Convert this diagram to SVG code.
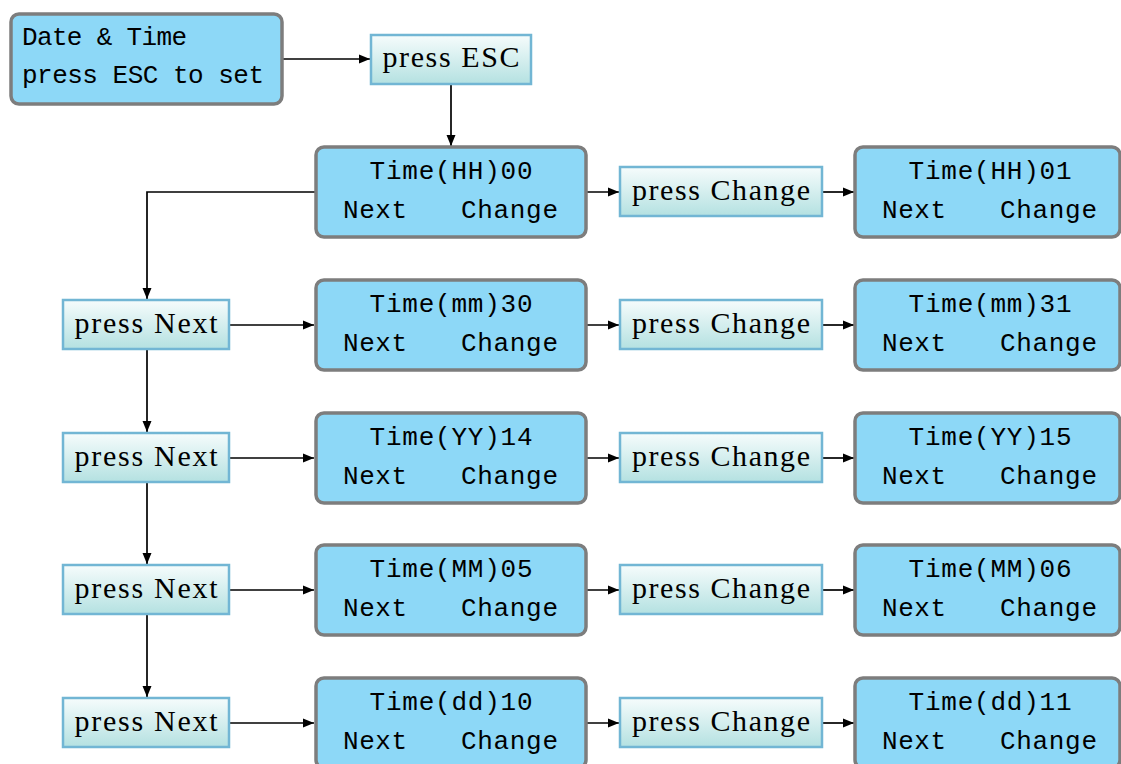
<svg xmlns="http://www.w3.org/2000/svg" width="1121" height="764" viewBox="0 0 1121 764">
<defs>
<linearGradient id="pg" x1="0" y1="0" x2="0" y2="1">
<stop offset="0" stop-color="#f6fcfc"/>
<stop offset="1" stop-color="#b4e1e1"/>
</linearGradient>
<marker id="ah" markerWidth="12" markerHeight="10" refX="11" refY="5" orient="auto" markerUnits="userSpaceOnUse">
<path d="M0,0.5 L11,5 L0,9.5 Z" fill="#000"/>
</marker>
<style>
.lcd{fill:#8dd8f7;stroke:#7d7d7d;stroke-width:3.5}
.pr{fill:url(#pg);stroke:#72b6d4;stroke-width:2.5}
.mono{font-family:"Liberation Mono","DejaVu Sans Mono",monospace;font-size:26px;fill:#000}
.ser{font-family:"Liberation Serif","DejaVu Serif",serif;font-size:30px;fill:#000}
.c{stroke:#000;stroke-width:1.7;fill:none;marker-end:url(#ah)}
</style>
</defs>
<g id="connectors">
<path class="c" d="M282,59 L370,59"/>
<path class="c" d="M451,84 L451,146"/>
<path class="c" d="M316,192 L147,192 L147,299"/>
<path class="c" d="M147,349 L147,432"/>
<path class="c" d="M147,482 L147,564"/>
<path class="c" d="M147,614 L147,697"/>
<path class="c" d="M229,325 L314,325"/>
<path class="c" d="M229,458 L314,458"/>
<path class="c" d="M229,590 L314,590"/>
<path class="c" d="M229,723 L314,723"/>
<path class="c" d="M586,192 L619,192"/>
<path class="c" d="M586,325 L619,325"/>
<path class="c" d="M586,458 L619,458"/>
<path class="c" d="M586,590 L619,590"/>
<path class="c" d="M586,723 L619,723"/>
<path class="c" d="M822,192 L854,192"/>
<path class="c" d="M822,325 L854,325"/>
<path class="c" d="M822,458 L854,458"/>
<path class="c" d="M822,590 L854,590"/>
<path class="c" d="M822,723 L854,723"/>
</g>
<g id="start">
<rect class="lcd" x="11" y="14" width="271" height="90" rx="8"/>
<text class="mono" x="22" y="45" textLength="165">Date &amp; Time</text>
<text class="mono" x="22" y="83" textLength="242">press ESC to set</text>
</g>
<g id="pressESC">
<rect class="pr" x="371" y="35" width="160" height="49"/>
<text class="ser" x="451" y="67" text-anchor="middle" textLength="137">press ESC</text>
</g>
<g id="hh00">
<rect class="lcd" x="316" y="147" width="270" height="90" rx="8"/>
<text class="mono" x="451" y="179" text-anchor="middle" textLength="163">Time(HH)00</text>
<text class="mono" x="343" y="218" textLength="64">Next</text>
<text class="mono" x="461" y="218" textLength="97">Change</text>
</g>
<g id="pc1">
<rect class="pr" x="620" y="167" width="202" height="49"/>
<text class="ser" x="721" y="200" text-anchor="middle" textLength="178">press Change</text>
</g>
<g id="hh01">
<rect class="lcd" x="855" y="147" width="265" height="90" rx="8"/>
<text class="mono" x="990" y="179" text-anchor="middle" textLength="163">Time(HH)01</text>
<text class="mono" x="882" y="218" textLength="64">Next</text>
<text class="mono" x="1000" y="218" textLength="97">Change</text>
</g>
<g id="pn1">
<rect class="pr" x="63" y="300" width="166" height="49"/>
<text class="ser" x="146" y="333" text-anchor="middle" textLength="143">press Next</text>
</g>
<g id="mm30">
<rect class="lcd" x="316" y="280" width="270" height="90" rx="8"/>
<text class="mono" x="451" y="312" text-anchor="middle" textLength="163">Time(mm)30</text>
<text class="mono" x="343" y="351" textLength="64">Next</text>
<text class="mono" x="461" y="351" textLength="97">Change</text>
</g>
<g id="pc2">
<rect class="pr" x="620" y="300" width="202" height="49"/>
<text class="ser" x="721" y="333" text-anchor="middle" textLength="178">press Change</text>
</g>
<g id="mm31">
<rect class="lcd" x="855" y="280" width="265" height="90" rx="8"/>
<text class="mono" x="990" y="312" text-anchor="middle" textLength="163">Time(mm)31</text>
<text class="mono" x="882" y="351" textLength="64">Next</text>
<text class="mono" x="1000" y="351" textLength="97">Change</text>
</g>
<g id="pn2">
<rect class="pr" x="63" y="433" width="166" height="49"/>
<text class="ser" x="146" y="466" text-anchor="middle" textLength="143">press Next</text>
</g>
<g id="yy14">
<rect class="lcd" x="316" y="413" width="270" height="90" rx="8"/>
<text class="mono" x="451" y="445" text-anchor="middle" textLength="163">Time(YY)14</text>
<text class="mono" x="343" y="484" textLength="64">Next</text>
<text class="mono" x="461" y="484" textLength="97">Change</text>
</g>
<g id="pc3">
<rect class="pr" x="620" y="433" width="202" height="49"/>
<text class="ser" x="721" y="466" text-anchor="middle" textLength="178">press Change</text>
</g>
<g id="yy15">
<rect class="lcd" x="855" y="413" width="265" height="90" rx="8"/>
<text class="mono" x="990" y="445" text-anchor="middle" textLength="163">Time(YY)15</text>
<text class="mono" x="882" y="484" textLength="64">Next</text>
<text class="mono" x="1000" y="484" textLength="97">Change</text>
</g>
<g id="pn3">
<rect class="pr" x="63" y="565" width="166" height="49"/>
<text class="ser" x="146" y="598" text-anchor="middle" textLength="143">press Next</text>
</g>
<g id="MM05">
<rect class="lcd" x="316" y="545" width="270" height="90" rx="8"/>
<text class="mono" x="451" y="577" text-anchor="middle" textLength="163">Time(MM)05</text>
<text class="mono" x="343" y="616" textLength="64">Next</text>
<text class="mono" x="461" y="616" textLength="97">Change</text>
</g>
<g id="pc4">
<rect class="pr" x="620" y="565" width="202" height="49"/>
<text class="ser" x="721" y="598" text-anchor="middle" textLength="178">press Change</text>
</g>
<g id="MM06">
<rect class="lcd" x="855" y="545" width="265" height="90" rx="8"/>
<text class="mono" x="990" y="577" text-anchor="middle" textLength="163">Time(MM)06</text>
<text class="mono" x="882" y="616" textLength="64">Next</text>
<text class="mono" x="1000" y="616" textLength="97">Change</text>
</g>
<g id="pn4">
<rect class="pr" x="63" y="698" width="166" height="49"/>
<text class="ser" x="146" y="731" text-anchor="middle" textLength="143">press Next</text>
</g>
<g id="dd10">
<rect class="lcd" x="316" y="678" width="270" height="90" rx="8"/>
<text class="mono" x="451" y="710" text-anchor="middle" textLength="163">Time(dd)10</text>
<text class="mono" x="343" y="749" textLength="64">Next</text>
<text class="mono" x="461" y="749" textLength="97">Change</text>
</g>
<g id="pc5">
<rect class="pr" x="620" y="698" width="202" height="49"/>
<text class="ser" x="721" y="731" text-anchor="middle" textLength="178">press Change</text>
</g>
<g id="dd11">
<rect class="lcd" x="855" y="678" width="265" height="90" rx="8"/>
<text class="mono" x="990" y="710" text-anchor="middle" textLength="163">Time(dd)11</text>
<text class="mono" x="882" y="749" textLength="64">Next</text>
<text class="mono" x="1000" y="749" textLength="97">Change</text>
</g>
</svg>
